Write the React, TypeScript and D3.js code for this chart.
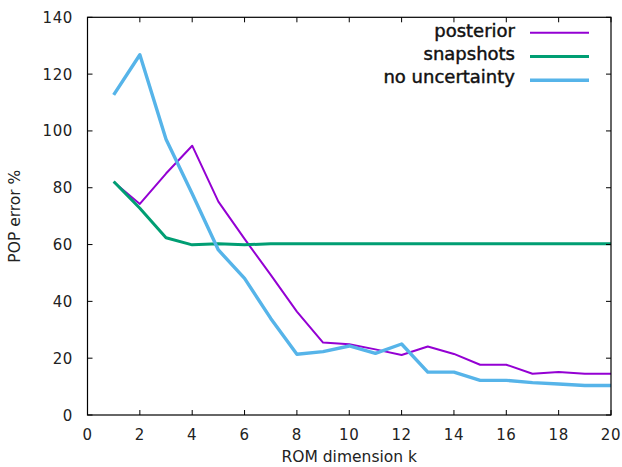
import * as d3 from 'd3';
import React from 'react';

// ROM dimension k
const kValues = [1, 2, 3, 4, 5, 6, 7, 8, 9, 10, 11, 12, 13, 14, 15, 16, 17, 18, 19, 20];

// POP error % for each series
const posterior = [82, 74.3, 85, 94.8, 75.1, 62, 49.3, 36.4, 25.5, 24.9, 23.1, 21.1, 24.1, 21.5, 17.7, 17.7, 14.5, 15.1, 14.5, 14.5];
const snapshots = [82.2, 72.8, 62.4, 59.9, 60.3, 59.9, 60.3, 60.3, 60.3, 60.3, 60.3, 60.3, 60.3, 60.3, 60.3, 60.3, 60.3, 60.3, 60.3, 60.3];
const noUncertainty = [112.7, 126.8, 97.1, 77.9, 58.1, 48.1, 34, 21.4, 22.3, 24.3, 21.7, 25, 15.1, 15.1, 12.2, 12.2, 11.4, 10.9, 10.4, 10.4];

const xTicks = [0, 2, 4, 6, 8, 10, 12, 14, 16, 18, 20];
const yTicks = [0, 20, 40, 60, 80, 100, 120, 140];

const seriesNames = ['posterior', 'snapshots', 'no uncertainty'];
const seriesData = [posterior, snapshots, noUncertainty];
const seriesColors = ['#9400d3', '#009e73', '#56b4e9'];
const seriesWidths = [2, 3, 3.4];

const W = 622;
const H = 467;
const plot = { left: 87.5, right: 611, top: 17.3, bottom: 415 };

const App = () => {
    const x = d3.scaleLinear().domain([0, 20]).range([plot.left, plot.right]);
    const y = d3.scaleLinear().domain([0, 140]).range([plot.bottom, plot.top]);
    const tickLen = 5;
    const font = '"DejaVu Sans", sans-serif';

    const lineGen = d3.line<number>()
        .x((d, i) => x(kValues[i]))
        .y(d => y(d));

    return (
        <svg width={W} height={H} style={{ position: 'absolute', left: 0, top: 0, background: '#fff' }}
            fontFamily={font}>
            {/* series */}
            {seriesData.map((vals, i) => (
                <path key={seriesNames[i]} d={lineGen(vals) || ''} fill="none"
                    stroke={seriesColors[i]} strokeWidth={seriesWidths[i]} strokeLinejoin="round" />
            ))}

            {/* ticks, mirrored inward on all sides */}
            {xTicks.map(t => (
                <g key={'xt' + t}>
                    <line x1={x(t)} x2={x(t)} y1={plot.bottom} y2={plot.bottom - tickLen} stroke="#000" />
                    <line x1={x(t)} x2={x(t)} y1={plot.top} y2={plot.top + tickLen} stroke="#000" />
                    <text x={x(t)} y={440} textAnchor="middle" fontSize={15} fill="#222" letterSpacing={0.6}>{t}</text>
                </g>
            ))}
            {yTicks.map(t => (
                <g key={'yt' + t}>
                    <line x1={plot.left} x2={plot.left + tickLen} y1={y(t)} y2={y(t)} stroke="#000" />
                    <line x1={plot.right} x2={plot.right - tickLen} y1={y(t)} y2={y(t)} stroke="#000" />
                    <text x={73} y={y(t) + 5.5} textAnchor="end" fontSize={15} fill="#222" letterSpacing={0.6}>{t}</text>
                </g>
            ))}

            {/* border */}
            <rect x={plot.left} y={plot.top} width={plot.right - plot.left} height={plot.bottom - plot.top}
                fill="none" stroke="#000" strokeWidth={1.2} />

            {/* axis titles */}
            <text x={(plot.left + plot.right) / 2} y={462} textAnchor="middle" fontSize={15.5} fill="#222">ROM dimension k</text>
            <text transform={`translate(20,${(plot.top + plot.bottom) / 2}) rotate(-90)`} textAnchor="middle"
                fontSize={15.5} fill="#222">POP error %</text>

            {/* legend */}
            {seriesNames.map((name, i) => (
                <g key={'lg' + name}>
                    <text x={515} y={37 + i * 23.2} textAnchor="end" fontSize={18} fill="#111"
                        stroke="#111" strokeWidth={0.45}>{name}</text>
                    <line x1={530} x2={589} y1={32.7 + i * 23.8} y2={32.7 + i * 23.8}
                        stroke={seriesColors[i]} strokeWidth={seriesWidths[i]} />
                </g>
            ))}
        </svg>
    );
};

export default App;
